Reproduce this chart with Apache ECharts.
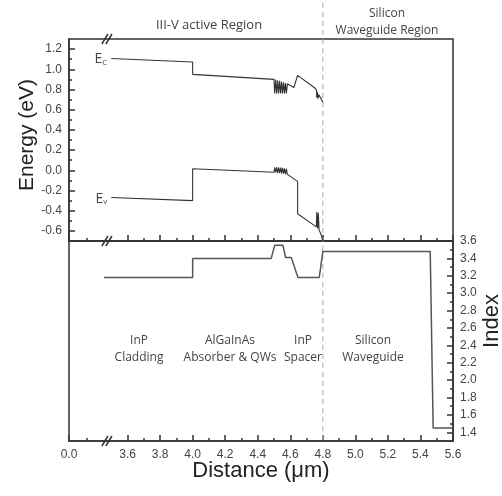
<!DOCTYPE html>
<html>
<head>
<meta charset="utf-8">
<script src="https://cdn.jsdelivr.net/npm/echarts@6/dist/echarts.min.js"></script>
<style>
html,body{margin:0;padding:0;background:#fff;}
#chart{width:502px;height:496px;}
</style>
</head>
<body>
<div id="chart"></div>
<script>
// ---------- data ----------
// Conduction band edge (top panel)
const ecDist = [3.50,4.00,4.00,4.50, 4.504,4.504,4.510,4.510, 4.516,4.516,4.522,4.522, 4.528,4.528,4.534,4.534, 4.540,4.540,4.546,4.546, 4.552,4.552,4.558,4.558, 4.564,4.564,4.570,4.570, 4.576,4.576,4.582,4.582, 4.592,4.622,4.645,4.755, 4.762,4.762,4.766,4.766, 4.770,4.770,4.774,4.774, 4.785,4.800];
const ecEnergy = [1.107,1.073,0.950,0.900, 0.899,0.760,0.760,0.895, 0.893,0.760,0.760,0.890, 0.888,0.760,0.760,0.885, 0.882,0.760,0.760,0.878, 0.875,0.760,0.760,0.871, 0.867,0.760,0.760,0.863, 0.860,0.760,0.760,0.856, 0.850,0.820,0.940,0.810, 0.790,0.720,0.720,0.775, 0.765,0.710,0.710,0.750, 0.720,0.675];
// Valence band edge (top panel)
const evDist = [3.50,4.00,4.00,4.50, 4.504,4.504,4.510,4.510, 4.516,4.516,4.522,4.522, 4.528,4.528,4.534,4.534, 4.540,4.540,4.546,4.546, 4.552,4.552,4.558,4.558, 4.564,4.564,4.570,4.570, 4.576,4.576,4.582,4.582, 4.592,4.645,4.645,4.760, 4.763,4.763,4.768,4.768, 4.772,4.772,4.777,4.777, 4.790,4.800];
const evEnergy = [-0.270,-0.300,0.015,-0.020, -0.020,0.030,0.030,-0.022, -0.023,0.030,0.030,-0.025, -0.026,0.028,0.028,-0.028, -0.029,0.026,0.026,-0.031, -0.032,0.024,0.024,-0.034, -0.035,0.020,0.020,-0.037, -0.038,0.015,0.015,-0.040, -0.045,-0.110,-0.430,-0.560, -0.565,-0.410,-0.410,-0.575, -0.580,-0.420,-0.420,-0.590, -0.640,-0.700];
// Refractive index profile (bottom panel)
const nDist  = [3.455,4.000,4.000,4.483,4.504,4.555,4.571,4.606,4.647,4.778,4.800,5.460,5.478,5.600];
const nIndex = [3.18, 3.18, 3.40, 3.40, 3.55, 3.55, 3.41, 3.41, 3.18, 3.18, 3.48, 3.48, 1.45, 1.45];

// Axis ticks / labels (broken x axis: 0.0 shown at the left edge)
const xMajorVals  = [3.24,3.6,3.8,4.0,4.2,4.4,4.6,4.8,5.0,5.2,5.4,5.6];
const xMajorText  = ['0.0','3.6','3.8','4.0','4.2','4.4','4.6','4.8','5.0','5.2','5.4','5.6'];
const xMinorVals  = [3.35,3.7,3.9,4.1,4.3,4.5,4.7,4.9,5.1,5.3,5.5];
const eMajorVals  = [-0.6,-0.4,-0.2,0.0,0.2,0.4,0.6,0.8,1.0,1.2];
const eMinorVals  = [-0.5,-0.3,-0.1,0.1,0.3,0.5,0.7,0.9,1.1];
const nMajorVals  = [1.4,1.6,1.8,2.0,2.2,2.4,2.6,2.8,3.0,3.2,3.4,3.6];
const nMinorVals  = [1.5,1.7,1.9,2.1,2.3,2.5,2.7,2.9,3.1,3.3,3.5];
const breakAt = 3.473;
const interfaceAt = 4.8;

const zip = (a,b) => a.map((v,i)=>[v,b[i]]);

const AX = '#333';
const LBL = {color:'#444', fontFamily:'Liberation Sans, Arial, sans-serif', fontSize:12};

function xAx(gi, vals, len, line, labels){
  return {type:'value', gridIndex:gi, min:3.24, max:5.6, position:'bottom',
    axisLine:{show:line, onZero:false, lineStyle:{color:AX,width:1.5}},
    axisTick:{show:true, inside:true, length:len, customValues:vals, lineStyle:{color:AX,width:1.5}},
    axisLabel:{show:labels, customValues:xMajorVals, margin:8, ...LBL,
      formatter:(v)=>{let k=0,d=1e9; xMajorVals.forEach((m,i)=>{if(Math.abs(m-v)<d){d=Math.abs(m-v);k=i;}}); return xMajorText[k];}},
    splitLine:{show:false}};
}
function yAx(gi, pos, min, max, vals, len, line, labels, dec){
  return {type:'value', gridIndex:gi, min:min, max:max, position:pos,
    axisLine:{show:line, onZero:false, lineStyle:{color:AX,width:1.5}},
    axisTick:{show:true, inside:true, length:len, customValues:vals, lineStyle:{color:AX,width:1.5}},
    axisLabel:{show:labels, customValues:vals, margin:7, ...LBL, formatter:(v)=>v.toFixed(dec)},
    splitLine:{show:false}};
}

const g0 = {left:69, right:49, top:39, height:202};
const g1 = {left:69, right:49, top:241, height:200};

const chart = echarts.init(document.getElementById('chart'), null, {renderer:'canvas'});
const option = {
  animation:false,
  backgroundColor:'#fff',
  grid:[
    {...g0, show:true, borderColor:AX, borderWidth:1.5, backgroundColor:'transparent'},
    {...g1, show:true, borderColor:AX, borderWidth:1.5, backgroundColor:'transparent'},
    {...g0, show:false},
    {...g1, show:false}
  ],
  xAxis:[
    xAx(0, xMajorVals, 6, true, false),
    xAx(1, xMajorVals, 6, true, true),
    xAx(2, xMinorVals, 3, false, false),
    xAx(3, xMinorVals, 3, false, false)
  ],
  yAxis:[
    yAx(0,'left',-0.7,1.3,eMajorVals,6,true,true,1),
    yAx(1,'right',1.3,3.6,nMajorVals,6,true,true,1),
    yAx(2,'left',-0.7,1.3,eMinorVals,3,false,false,1),
    yAx(3,'right',1.3,3.6,nMinorVals,3,false,false,1)
  ],
  series:[
    {type:'line', name:'Ec', xAxisIndex:0, yAxisIndex:0, data:zip(ecDist,ecEnergy), showSymbol:false, symbol:'none',
     lineStyle:{color:'#333', width:1.1}},
    {type:'line', name:'Ev', xAxisIndex:0, yAxisIndex:0, data:zip(evDist,evEnergy), showSymbol:false, symbol:'none',
     lineStyle:{color:'#333', width:1.1}},
    {type:'line', name:'Index', xAxisIndex:1, yAxisIndex:1, data:zip(nDist,nIndex), showSymbol:false, symbol:'none',
     lineStyle:{color:'#555', width:1.5}}
  ]
};
chart.setOption(option);

// decorations positioned from the axes
const pTop = chart.convertToPixel({xAxisIndex:0, yAxisIndex:0}, [breakAt, 1.3]);
const pMid = chart.convertToPixel({xAxisIndex:0, yAxisIndex:0}, [breakAt, -0.7]);
const pBot = chart.convertToPixel({xAxisIndex:1, yAxisIndex:1}, [breakAt, 1.3]);
const pIf  = chart.convertToPixel({xAxisIndex:1, yAxisIndex:1}, [interfaceAt, 1.3]);
const pEc  = chart.convertToPixel({xAxisIndex:0, yAxisIndex:0}, [ecDist[0], ecEnergy[0]]);
const pEv  = chart.convertToPixel({xAxisIndex:0, yAxisIndex:0}, [evDist[0], evEnergy[0]]);

function breakMarks(p){
  const s = {stroke:AX, lineWidth:1.5};
  return [
    {type:'line', shape:{x1:p[0]-5, y1:p[1]+5, x2:p[0]+1, y2:p[1]-5}, style:s, z:100},
    {type:'line', shape:{x1:p[0]-1, y1:p[1]+5, x2:p[0]+5, y2:p[1]-5}, style:s, z:100}
  ];
}
function txt(x,y,t,size){
  return {type:'text', x:x, y:y, z:100,
    style:{text:t, font:(size||12)+'px "Open Sans", sans-serif', fill:'#444', align:'center', verticalAlign:'middle', lineHeight:17}};
}
const subRich = {a:{font:'14px "Open Sans", sans-serif', fill:'#444'}, s:{font:'8px "Open Sans", sans-serif', fill:'#444', padding:[7,0,0,0]}};
const graphics = [
  ...breakMarks(pTop), ...breakMarks(pMid), ...breakMarks(pBot),
  {type:'line', shape:{x1:pIf[0], y1:3, x2:pIf[0], y2:pIf[1]}, style:{stroke:'#aaa', lineWidth:1, lineDash:[5,4]}, z:1},
  txt(209, 25, 'III-V active Region', 13),
  txt(387, 22, 'Silicon\nWaveguide Region', 12),
  txt(139, 349, 'InP\nCladding'),
  txt(230, 349, 'AlGaInAs\nAbsorber & QWs'),
  txt(303, 349, 'InP\nSpacer'),
  txt(373, 349, 'Silicon\nWaveguide'),
  {type:'text', x:pEc[0]-4, y:pEc[1]+1, z:100, style:{text:'{a|E}{s|C}', align:'right', verticalAlign:'middle', rich:subRich}},
  {type:'text', x:pEv[0]-4, y:pEv[1]+1, z:100, style:{text:'{a|E}{s|v}', align:'right', verticalAlign:'middle', rich:subRich}},
  {type:'text', x:27, y:135, rotation:Math.PI/2, z:100,
    style:{text:'Energy (eV)', font:'21px "Liberation Sans", Arial, sans-serif', fill:'#222', align:'center', verticalAlign:'middle'}},
  {type:'text', x:492, y:321, rotation:Math.PI/2, z:100,
    style:{text:'Index', font:'22px "Liberation Sans", Arial, sans-serif', fill:'#222', align:'center', verticalAlign:'middle'}},
  {type:'text', x:261, y:471, z:100,
    style:{text:'Distance (\u03bcm)', font:'22px "Liberation Sans", Arial, sans-serif', fill:'#222', align:'center', verticalAlign:'middle'}}
];
chart.setOption({graphic:graphics});
</script>
</body>
</html>
